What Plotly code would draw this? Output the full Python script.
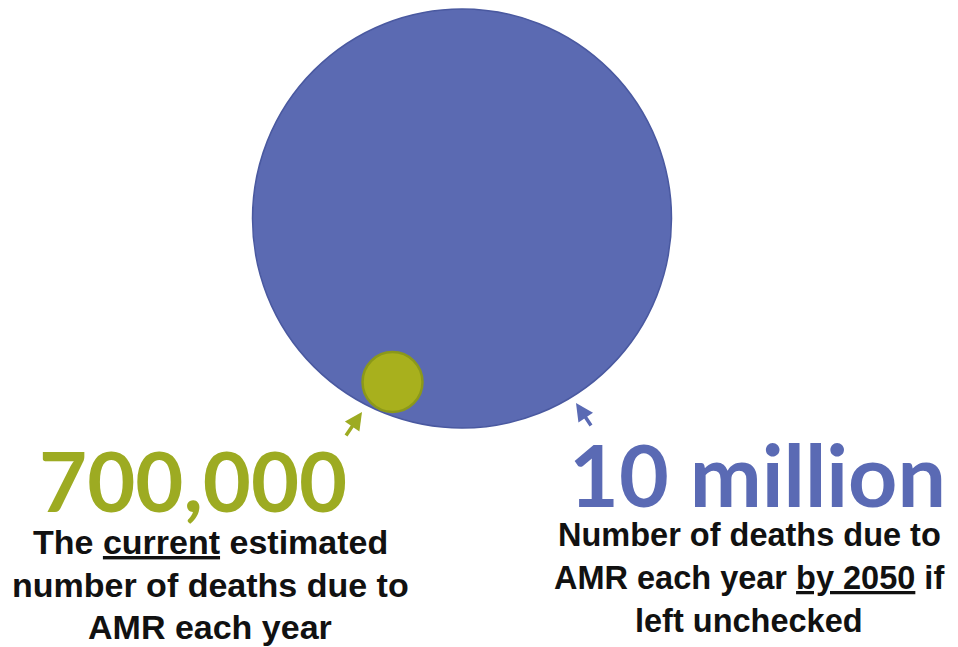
import plotly.graph_objects as go

# ---- data ----
series = ["current", "2050"]
deaths = [700000, 10000000]
headline = ["700,000", "10 million"]
caption_current = ["The <u>current</u> estimated", "number of deaths due to", "AMR each year"]
caption_2050 = ["Number of deaths due to", "AMR each year <u>by 2050</u> if", "left unchecked"]

# ---- styles / layout ----
W, H = 958, 647
BLUE = "#5b6ab2"
BLUE_LINE = "#4a59a0"
BLUE_TEXT = "#5a6ab4"
GREEN = "#a8b01d"
GREEN_LINE = "#8b981a"
GREEN_TEXT = "#9dab22"

fig = go.Figure()
fig.add_trace(go.Scatter(x=[0, W], y=[0, H], mode="markers", marker=dict(opacity=0), hoverinfo="skip", showlegend=False))

# circles (big = 2050 projection, small = current)
big = dict(cx=462, cy=218.5, r=209.5)
small = dict(cx=392.5, cy=382, r=30)
fig.add_shape(type="circle", xref="x", yref="y",
              x0=big["cx"] - big["r"], x1=big["cx"] + big["r"],
              y0=big["cy"] - big["r"], y1=big["cy"] + big["r"],
              fillcolor=BLUE, line=dict(color=BLUE_LINE, width=1.5), layer="above")
fig.add_shape(type="circle", xref="x", yref="y",
              x0=small["cx"] - small["r"], x1=small["cx"] + small["r"],
              y0=small["cy"] - small["r"], y1=small["cy"] + small["r"],
              fillcolor=GREEN, line=dict(color=GREEN_LINE, width=2.5), layer="above")

# arrows
fig.add_annotation(x=362, y=412, ax=345, ay=437, xref="x", yref="y", axref="x", ayref="y",
                   text="", showarrow=True, arrowhead=2, arrowsize=1, arrowwidth=3.5, arrowcolor=GREEN_TEXT)
fig.add_annotation(x=576, y=403, ax=592, ay=427, xref="x", yref="y", axref="x", ayref="y",
                   text="", showarrow=True, arrowhead=2, arrowsize=1, arrowwidth=3.5, arrowcolor=BLUE_TEXT)

# headlines
big_font = "Lato, 'Open Sans', sans-serif"
fig.add_annotation(x=193, y=480, xref="x", yref="y", text="<b>" + headline[0] + "</b>", showarrow=False,
                   font=dict(family=big_font, size=83, color=GREEN_TEXT), xanchor="center", yanchor="middle")
fig.add_annotation(x=757, y=473, xref="x", yref="y", text="<b>" + headline[1] + "</b>", showarrow=False,
                   font=dict(family=big_font, size=86, color=BLUE_TEXT), xanchor="center", yanchor="middle")

# captions
cap_font = "'Liberation Sans', Arial, sans-serif"
left_base = [555, 598, 640]
right_base = [547, 590, 633]
for i, line in enumerate(caption_current):
    fig.add_annotation(x=210, y=left_base[i] - 13, xref="x", yref="y", text="<b>" + line + "</b>",
                       showarrow=False, font=dict(family=cap_font, size=34, color="#111111"),
                       xanchor="center", yanchor="middle")
for i, line in enumerate(caption_2050):
    fig.add_annotation(x=749, y=right_base[i] - 12.5, xref="x", yref="y", text="<b>" + line + "</b>",
                       showarrow=False, font=dict(family=cap_font, size=32.5, color="#111111"),
                       xanchor="center", yanchor="middle")

fig.update_layout(
    width=W, height=H, margin=dict(l=0, r=0, t=0, b=0),
    paper_bgcolor="white", plot_bgcolor="white",
    xaxis=dict(range=[0, W], visible=False, fixedrange=True),
    yaxis=dict(range=[H, 0], visible=False, fixedrange=True),
    showlegend=False,
)
fig.write_html("out.html")
